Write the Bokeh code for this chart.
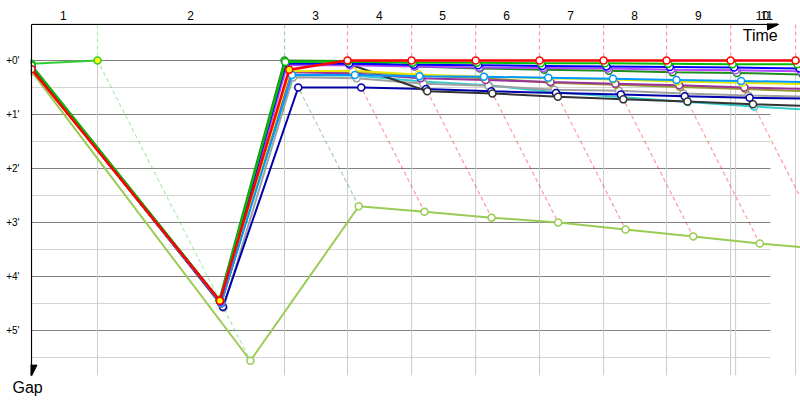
from bokeh.plotting import figure
from bokeh.models import Range1d, FixedTicker, Arrow, NormalHead, Label, Title
from bokeh.embed import file_html
from bokeh.resources import INLINE

# ---------------- data ----------------
# leader's crossing time (minutes) at the end of each lap
lap_times = [2.40, 9.20, 11.49, 13.82, 16.15, 18.47, 20.80, 23.09, 25.42, 27.78]
extra_vgrid = [25.60]
lap_labels = ["1", "2", "3", "4", "5", "6", "7", "8", "9", "10", "11"]
lap_label_pos = [1.16, 5.78, 10.33, 12.65, 14.95, 17.27, 19.60, 21.93, 24.25, 26.58, 26.73]
gap_ticks = [0, 1, 2, 3, 4, 5]
gap_labels = ["+0'", "+1'", "+2'", "+3'", "+4'", "+5'"]
minor_gaps = [0.5, 1.5, 2.5, 3.5, 4.5, 5.5]

# gaps to the leader (minutes): index 0 = start, index k = end of lap k
driver_names = ["A", "Lime", "Cyan", "Gray", "DarkBlue", "Black", "Olive", "Purple",
                "Yellow", "LightBlue", "DarkGreen", "Violet", "Blue", "Green", "Red"]
driver_colors = ["#33cc33", "#99cc55", "#33cccc", "#a0a0a0", "#0000aa", "#333333", "#999933",
                 "#993399", "#e6e600", "#0099ff", "#1e8c1e", "#b347ff", "#0000ff", "#00c000", "#ff0000"]
gaps_A = [0.06, 0.0]
gaps_lime = [0.20, 5.56, 2.70, 2.80, 2.91, 3.00, 3.13, 3.26, 3.39, 3.50]
gaps_cyan = [0.10, 4.48, 0.28, 0.28, 0.39, 0.46, 0.59, 0.68, 0.77, 0.85, 0.93]
gaps_gray = [0.12, 4.58, 0.31, 0.33, 0.43, 0.47, 0.54, 0.56, 0.61, 0.65, 0.67]
gaps_darkblue = [0.13, 4.56, 0.50, 0.50, 0.53, 0.57, 0.60, 0.63, 0.66, 0.69, 0.71]
gaps_black = [0.11, 4.47, 0.07, 0.07, 0.57, 0.61, 0.67, 0.72, 0.76, 0.81, 0.85]
gaps_olive = [0.15, 4.50, 0.21, 0.21, 0.28, 0.33, 0.41, 0.45, 0.49, 0.53, 0.57]
gaps_purple = [0.14, 4.50, 0.22, 0.24, 0.33, 0.36, 0.40, 0.43, 0.46, 0.50, 0.53]
gaps_yellow = [0.14, 4.49, 0.20, 0.19, 0.26, 0.30, 0.33, 0.35, 0.39, 0.41, 0.44]
gaps_lightblue = [0.13, 4.49, 0.27, 0.27, 0.29, 0.30, 0.32, 0.34, 0.36, 0.38, 0.40]
gaps_darkgreen = [0.08, 4.43, 0.00, 0.01, 0.11, 0.15, 0.17, 0.19, 0.22, 0.23, 0.26]
gaps_violet = [0.12, 4.47, 0.09, 0.09, 0.11, 0.13, 0.14, 0.15, 0.17, 0.18, 0.20]
gaps_blue = [0.11, 4.46, 0.05, 0.06, 0.08, 0.09, 0.10, 0.11, 0.12, 0.13, 0.15]
gaps_green = [0.09, 4.44, 0.03, 0.02, 0.04, 0.04, 0.05, 0.05, 0.06, 0.07, 0.07]
gaps_red = [0.16, 4.45, 0.17, 0.00, 0.00, 0.00, 0.00, 0.00, 0.00, 0.00, 0.00]
driver_gaps = [gaps_A, gaps_lime, gaps_cyan, gaps_gray, gaps_darkblue, gaps_black, gaps_olive,
               gaps_purple, gaps_yellow, gaps_lightblue, gaps_darkgreen, gaps_violet, gaps_blue,
               gaps_green, gaps_red]
# laps on which a driver set the fastest time (yellow marker)
fastest_laps = {"A": [1], "Red": [1, 2]}

# ---------------- figure ----------------
X_START = -0.036
X_END = 27.96
Y_TOP = -0.685
Y_BOTTOM = 5.852
AXIS_Y = -0.667

p = figure(width=800, height=400, x_range=Range1d(X_START, X_END), y_range=Range1d(Y_BOTTOM, Y_TOP),
           x_axis_location="above", output_backend="svg", toolbar_location=None,
           min_border_left=30, min_border_top=23, min_border_right=0, min_border_bottom=24)
p.outline_line_color = None
p.grid.visible = False
p.background_fill_color = "white"
p.border_fill_color = "white"

for ax in p.axis:
    ax.axis_line_color = None
    ax.major_tick_line_color = None
    ax.minor_tick_line_color = None
    ax.major_label_text_font = "Liberation Sans"
    ax.major_label_text_color = "black"

p.xaxis.ticker = FixedTicker(ticks=lap_label_pos)
p.xaxis.major_label_overrides = dict(zip(lap_label_pos, lap_labels))
p.xaxis.major_label_text_font_size = "12px"
p.xaxis.major_label_standoff = -2
p.yaxis.ticker = FixedTicker(ticks=gap_ticks)
p.yaxis.major_label_overrides = dict(zip(gap_ticks, gap_labels))
p.yaxis.major_label_text_font_size = "10px"
p.yaxis.major_label_standoff = 5

# "Gap" caption under the vertical axis
p.add_layout(Title(text="Gap", align="left", offset=-18, standoff=0, text_font="Liberation Sans",
                   text_font_size="16px", text_font_style="normal", text_color="black"), "below")

# grid
grid_right = 26.87
grid_bottom = 5.83
p.segment(x0=[0] * len(minor_gaps), y0=minor_gaps, x1=[grid_right] * len(minor_gaps), y1=minor_gaps,
          line_color="#d4d4d4", line_width=1)
p.segment(x0=[0] * len(gap_ticks), y0=gap_ticks, x1=[grid_right] * len(gap_ticks), y1=gap_ticks,
          line_color="#808080", line_width=1)
vg = lap_times + extra_vgrid
p.segment(x0=vg, y0=[0] * len(vg), x1=vg, y1=[grid_bottom] * len(vg), line_color="#cccccc", line_width=1)

# lap lines (dashed): leader crossing -> last car's crossing
for k, t in enumerate(lap_times, start=1):
    entries = [(g[k], c) for g, c in zip(driver_gaps, driver_colors) if len(g) > k]
    gmax = max(e[0] for e in entries)
    leader_color = min(entries, key=lambda e: e[0])[1]
    p.line([t, t, t + gmax], [AXIS_Y, 0, gmax], line_color=leader_color, line_alpha=0.4,
           line_width=1.2, line_dash="4 3")

# drivers
for name, color, gaps in zip(driver_names, driver_colors, driver_gaps):
    xs = [0.0] + [lap_times[k - 1] + gaps[k] for k in range(1, len(gaps))]
    ys = list(gaps)
    lw = 2.5 if name == "Red" else 2
    p.line(xs, ys, line_color=color, line_width=lw)
    fills = ["#ffff00" if k in fastest_laps.get(name, []) else "white" for k in range(len(gaps))]
    p.scatter(xs, ys, marker="circle", size=7, fill_color=fills, line_color=color, line_width=1.5)

# axes lines with arrows
p.add_layout(Arrow(end=NormalHead(size=11, fill_color="black", line_color="black"),
                   x_start=0, y_start=AXIS_Y, x_end=27.16, y_end=AXIS_Y, line_color="black", line_width=1.2))
p.add_layout(Arrow(end=NormalHead(size=11, fill_color="black", line_color="black"),
                   x_start=0, y_start=AXIS_Y, x_end=0, y_end=5.845, line_color="black", line_width=1.2))
p.add_layout(Label(x=27.13, y=-0.463, text="Time", text_align="right", text_baseline="middle",
                   text_font="Liberation Sans", text_font_size="16px", text_color="black"))

open("out.html", "w").write(file_html(p, INLINE))
